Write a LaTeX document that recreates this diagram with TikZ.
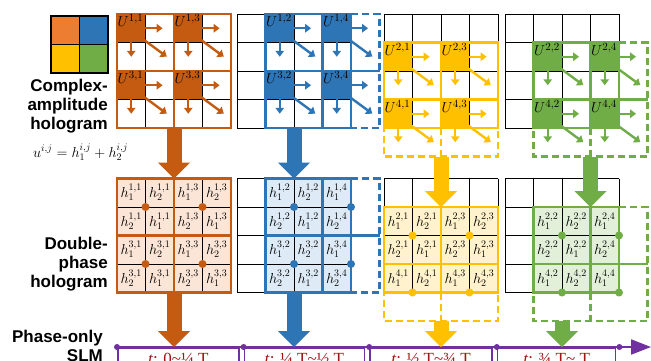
\documentclass[tikz,border=0pt]{standalone}
\usepackage{fontspec}
\setmainfont{Liberation Serif}
\newfontfamily\sidefont{Liberation Sans}
\usetikzlibrary{arrows.meta, positioning}
\definecolor{caorange}{RGB}{197,90,17}
\definecolor{keyorange}{RGB}{237,125,49}
\definecolor{cablue}{RGB}{46,117,182}
\definecolor{cayellow}{RGB}{255,192,0}
\definecolor{cagreen}{RGB}{112,173,71}
\definecolor{lightorange}{RGB}{251,229,214}
\definecolor{lightblue}{RGB}{222,235,247}
\definecolor{lightyellow}{RGB}{255,242,204}
\definecolor{lightgreen}{RGB}{226,240,217}
\definecolor{slmpurple}{RGB}{112,48,160}
\definecolor{timered}{RGB}{160,20,20}
\tikzset{
  cellline/.style={draw=black, line width=0.9pt},
  panelline/.style={draw=#1, line width=2.4pt},
  paneldash/.style={panelline=#1, dash pattern=on 7pt off 4pt},
  smallarr/.style={draw=#1, line width=2.4pt, -{Triangle[length=6pt,width=8.5pt]}},
  bigarr/.style={draw=#1, line width=15pt,
                 -{Triangle[length=16pt,width=32pt,line width=0pt]}},
  ulbl/.style={anchor=north west, inner sep=0.5pt, font=\fontsize{15}{15}\selectfont},
  hlbl/.style={inner sep=0pt, font=\fontsize{14.5}{14.5}\selectfont},
  sidelbl/.style={align=right, inner sep=0pt,
                  font=\sidefont\bfseries\fontsize{17}{19}\selectfont},
  slot/.style={draw=slmpurple, line width=1.6pt, anchor=north west,
               minimum width=#1, text height=11pt, text depth=4pt, inner ysep=6pt,
               text=timered, font=\fontsize{17}{17}\selectfont},
  tline/.style={draw=slmpurple, line width=2pt, -{Triangle[length=20pt,width=15pt]}}
}
% complex-amplitude panel: colour, x0, y0, column offset, row offset
\newcommand{\upanel}[5]{%
  \begin{scope}[shift={(#2,#3)}, x=28.5pt, y=-28.5pt]
    \foreach \sa in {0,1} \foreach \sb in {0,1}
      \fill[#1] (#4+2*\sa,#5+2*\sb) rectangle ++(1,1);
    \foreach \k in {0,...,4} {
      \draw[cellline] (\k,0) -- (\k,4);
      \draw[cellline] (0,\k) -- (4,\k);
    }
    \draw[panelline=#1] (#4,#5) rectangle (4,4);
    \draw[panelline=#1] (#4+2,#5) -- (#4+2,4);
    \draw[panelline=#1] (#4,#5+2) -- (#4+4,#5+2);
    \draw[paneldash=#1] (4,#5) -- (#4+4,#5) -- (#4+4,#5+4) -- (#4,#5+4) -- (#4,4);
    \draw[paneldash=#1] (#4+2,4) -- (#4+2,#5+4);
    \foreach \sa in {0,1} \foreach \sb in {0,1} {
      \pgfmathtruncatemacro\uu{#4+2*\sa}
      \pgfmathtruncatemacro\vv{#5+2*\sb}
      \pgfmathtruncatemacro\ii{#5+2*\sb+1}
      \pgfmathtruncatemacro\jj{#4+2*\sa+1}
      \draw[smallarr=#1] (\uu+0.75,\vv+0.5) -- (\uu+1.6,\vv+0.5);
      \draw[smallarr=#1] (\uu+0.5,\vv+0.75) -- (\uu+0.5,\vv+1.5);
      \draw[smallarr=#1] (\uu+0.8,\vv+0.8) -- (\uu+1.75,\vv+1.5);
      \node[ulbl] (u\ii\jj) at (\uu,\vv) {$U^{\ii,\jj}$};
    }
  \end{scope}}
% double-phase panel: colour, light colour, x0, y0, column offset, row offset
\newcommand{\hpanel}[6]{%
  \begin{scope}[shift={(#3,#4)}, x=28.5pt, y=-28.5pt]
    \fill[#2] (#5,#6) rectangle (4,4);
    \foreach \k in {0,...,4} {
      \draw[cellline] (\k,0) -- (\k,4);
      \draw[cellline] (0,\k) -- (4,\k);
    }
    \draw[panelline=#1] (#5,#6) rectangle (4,4);
    \draw[panelline=#1] (#5+2,#6) -- (#5+2,4);
    \draw[panelline=#1] (#5,#6+2) -- (#5+4,#6+2);
    \draw[paneldash=#1] (4,#6) -- (#5+4,#6) -- (#5+4,#6+4) -- (#5,#6+4) -- (#5,4);
    \draw[paneldash=#1] (#5+2,4) -- (#5+2,#6+4);
    \foreach \rr in {0,...,3} \foreach \cc in {0,...,3} {
      \pgfmathtruncatemacro\uu{#5+\cc}
      \pgfmathtruncatemacro\vv{#6+\rr}
      \pgfmathtruncatemacro\ii{#6+2*int(\rr/2)+1}
      \pgfmathtruncatemacro\jj{#5+2*int(\cc/2)+1}
      \pgfmathtruncatemacro\hs{mod(\rr+\cc,2)+1}
      \ifnum\uu<4 \ifnum\vv<4
        \node[hlbl] (h\ii\jj-\rr\cc) at (\uu+0.5,\vv+0.5) {$h_{\hs}^{\ii,\jj}$};
      \fi\fi
    }
    \foreach \sa in {0,1} \foreach \sb in {0,1}
      \fill[#1] (#5+2*\sa+1,#6+2*\sb+1) circle (4pt);
  \end{scope}}

\begin{document}
\begin{tikzpicture}[x=1pt, y=-1pt]
  \useasboundingbox (0,0) rectangle (651,360);
  % colour key
  \fill[keyorange] (51,16) rectangle (79.5,44.5);
  \fill[cablue] (79.5,16) rectangle (108,44.5);
  \fill[cayellow] (51,44.5) rectangle (79.5,73);
  \fill[cagreen] (79.5,44.5) rectangle (108,73);
  \draw[line width=1.2pt] (51,16) rectangle (108,73)
        (79.5,16) -- (79.5,73) (51,44.5) -- (108,44.5);

  \upanel{caorange}{117}{14}{0}{0}
  \upanel{cablue}{237}{14}{1}{0}
  \upanel{cayellow}{384}{14}{0}{1}
  \upanel{cagreen}{505}{14}{1}{1}

  \hpanel{caorange}{lightorange}{117}{178.5}{0}{0}
  \hpanel{cablue}{lightblue}{237}{178.5}{1}{0}
  \hpanel{cayellow}{lightyellow}{384}{178.5}{0}{1}
  \hpanel{cagreen}{lightgreen}{505}{178.5}{1}{1}

  \node[sidelbl, anchor=east] (calbl) at (108,106) {Complex-\\amplitude\\hologram};
  \node[anchor=base west, inner sep=0pt, font=\fontsize{14}{14}\selectfont] (eq)
        at (33,157) {$u^{i,j}=h_1^{i,j}+h_2^{i,j}$};
  \node[sidelbl, anchor=east] (dplbl) at (108,264) {Double-\\phase\\hologram};
  \node[sidelbl, anchor=north east] (slmlbl) at (103,330) {Phase-only\\SLM};

  \node[slot=121pt] (slot1) at (117,347) {\textit{t}: 0\textasciitilde ¼ T};
  \node[slot=120pt, right=4pt of slot1] (slot2) {\textit{t}: ¼ T\textasciitilde ½ T};
  \node[slot=122pt, right=4pt of slot2] (slot3) {\textit{t}: ½ T\textasciitilde ¾ T};
  \node[slot=118pt, right=4pt of slot3] (slot4) {\textit{t}: ¾ T\textasciitilde\ T};
  \coordinate (tlend) at (651,347);
  \draw[tline] (slot1.north west) -- (tlend);
  \foreach \s in {slot1,slot2,slot3,slot4}
    \fill[slmpurple] (\s.north west) circle (3pt);
  \fill[slmpurple] ([xshift=3pt]slot4.north east) circle (3pt);

  \coordinate (ca1) at (174,128);     \coordinate (dp1) at (174,178.5);
  \coordinate (ca2) at (294,128);     \coordinate (dp2) at (294,178.5);
  \coordinate (ca3) at (441,156.5);   \coordinate (dp3) at (441,207);
  \coordinate (ca4) at (590.5,156.5); \coordinate (dp4) at (590.5,207);
  \coordinate (out1) at (174,292.5);
  \coordinate (out2) at (294,292.5);
  \coordinate (out3) at (441,321);
  \coordinate (out4) at (562,321);

  \draw[bigarr=caorange] (ca1) -- (dp1);
  \draw[bigarr=cablue] (ca2) -- (dp2);
  \draw[bigarr=cayellow] (ca3) -- (dp3);
  \draw[bigarr=cagreen] (ca4) -- (dp4);
  \draw[bigarr=caorange] (out1) -- (out1 |- slot1.north);
  \draw[bigarr=cablue] (out2) -- (out2 |- slot1.north);
  \draw[bigarr=cayellow] (out3) -- (out3 |- slot1.north);
  \draw[bigarr=cagreen] (out4) -- (out4 |- slot1.north);
\end{tikzpicture}
\end{document}
